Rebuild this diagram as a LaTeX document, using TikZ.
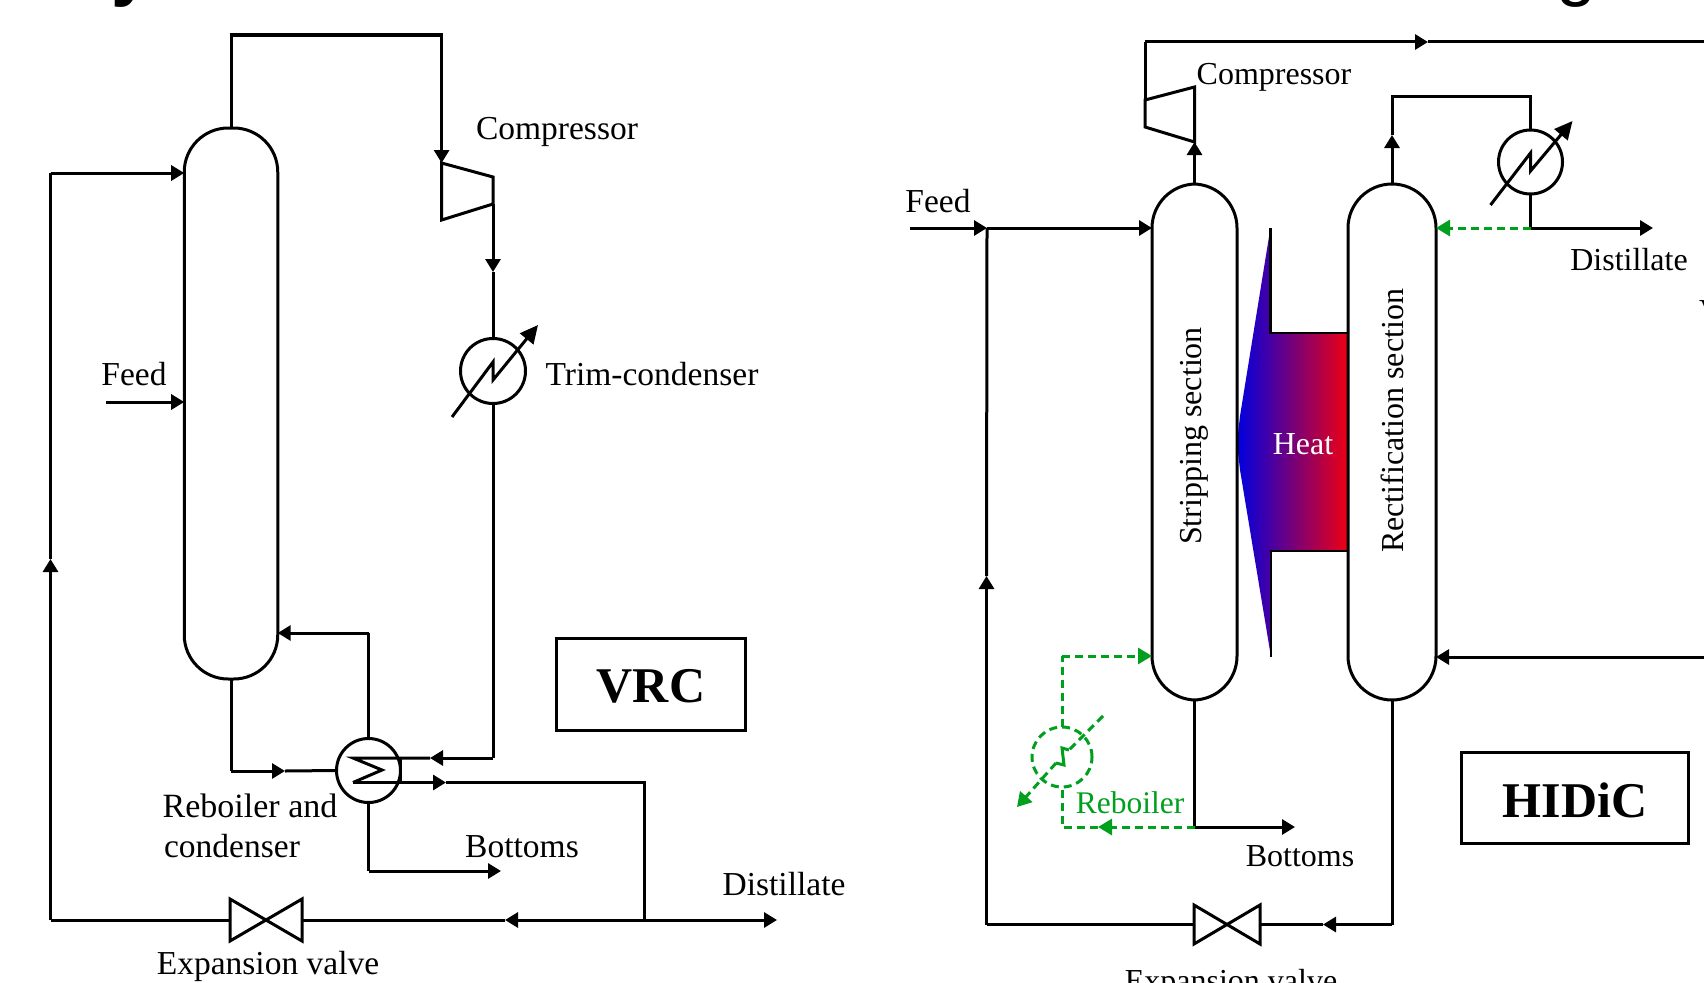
\documentclass[tikz,border=0pt]{standalone}
\usepackage{fontspec}
\setmainfont{Liberation Serif}
\newfontfamily\titlefont{Liberation Sans}
\usetikzlibrary{arrows.meta,calc}
\definecolor{reb}{RGB}{0,160,30}
\definecolor{hblue}{RGB}{0,0,225}
\definecolor{hred}{RGB}{238,0,18}
\tikzset{
  line/.style={line width=3pt,line join=miter,draw=black},
  flow/.style={line,-{Triangle[length=13pt,width=15pt]}},
  bigflow/.style={line,-{Triangle[length=18pt,width=17pt]}},
  greenline/.style={line width=3pt,draw=reb,dash pattern=on 8pt off 5pt},
  greenflow/.style={greenline,-{Triangle[length=14pt,width=16pt]},reb},
  column/.style={draw=black,line width=3pt,fill=white,rounded corners=44pt,minimum width=#1,outer sep=0pt,inner sep=0pt},
  exch/.style={circle,line width=3pt,draw=black,minimum size=64pt,inner sep=0pt,outer sep=0pt},
  lbl/.style={font=\fontsize{33.5}{38}\selectfont,inner sep=0pt},
  lblsmall/.style={font=\fontsize{32}{36}\selectfont,inner sep=0pt},
  sect/.style={font=\fontsize{32}{36}\selectfont,inner sep=0pt,rotate=90},
  tagbox/.style={draw=black,line width=3pt,inner sep=0pt,outer sep=0pt},
  tagtext/.style={inner sep=0pt,font=\fontsize{50}{56}\selectfont\bfseries},
  gap/.style={inner sep=0pt,outer sep=0pt},
}
\begin{document}
\begin{tikzpicture}[x=1pt,y=-1pt]
\useasboundingbox (0,0) rectangle (1704,982);
% clipped title fragments
\node[anchor=base,inner sep=0pt,font=\fontsize{72}{72}\selectfont\titlefont\bfseries] (tY) at (132,-7) {y};
\node[anchor=base,inner sep=0pt,font=\fontsize{72}{72}\selectfont\titlefont] (tG) at (1576,-7) {g};
%
% ====== VRC ======
\node[column=93.5pt,minimum height=551pt] (colA) at (231,403.5) {};
\node[exch,minimum size=65pt] (tcA) at (493,371) {};
\node[exch] (rbA) at (368.5,770.5) {};
\node[gap,minimum width=72pt,minimum height=42pt] (valveA) at (266,920) {};
\draw[line] (valveA.north west) -- (valveA.south east) -- (valveA.north east) -- (valveA.south west) -- cycle;
\coordinate (cA1) at (441.6,163);
\coordinate (cA2) at (493,177);
\coordinate (cA3) at (493,204);
\coordinate (cA4) at (441.6,220);
\draw[line] (cA1) -- (cA2) -- (cA3) -- (cA4) -- cycle;
% overhead
\coordinate (ohA) at (231,35);
\coordinate (ohB) at (441.6,35);
\draw[line] (colA.north) -- (ohA);
\draw[line width=4.5pt] ($(ohA)+(-1.5,0)$) -- ($(ohB)+(1.5,0)$);
\draw[flow] (ohB) -- (cA1);
% compressor to trim condenser
\coordinate (mA1) at (493,272);
\draw[flow] (cA3) -- (mA1);
\draw[line] (mA1) -- (tcA.north);
\draw[bigflow] ($(tcA)+(-41,46)$) -- ($(tcA)+(0,-9)$) -- ($(tcA)+(0,9)$) -- ($(tcA)+(45,-46)$);
% trim condenser to reboiler
\coordinate (cnA) at (493,758);
\coordinate (mA2) at (430,758);
\coordinate (sgA) at (353,758);
\draw[line] (tcA.south) -- (cnA);
\draw[flow] (cnA) -- (mA2);
\draw[line] (mA2) -- (sgA) -- (382,770) -- (353,782.5);
\draw[line] (400,758) -- (400,782.5);
% distillate
\coordinate (sgB) at (353,782.5);
\coordinate (mA3) at (446,782.5);
\coordinate (cdA) at (644,782.5);
\coordinate (jnA) at (644,920);
\coordinate (dsA) at (777,920);
\coordinate (mA4) at (505,920);
\draw[flow] (sgB) -- (mA3);
\draw[line] (mA3) -- (cdA) -- (jnA);
\draw[flow] (jnA) -- (dsA);
\draw[flow] (jnA) -- (mA4);
\draw[line] (mA4) -- (valveA.east);
% column bottom to reboiler
\coordinate (bmA) at (231,771);
\coordinate (mA5) at (285,771);
\draw[line] (colA.south) -- (bmA);
\draw[flow] (bmA) -- (mA5);
\draw[line] (mA5) -- (rbA.west);
% reboil return
\coordinate (rtA) at (368.5,633);
\coordinate (riA) at (277.7,633);
\draw[line] (rbA.north) -- (rtA);
\draw[flow] (rtA) -- (riA);
% bottoms
\coordinate (btA) at (368.5,871);
\coordinate (boA) at (501,871);
\draw[line] (rbA.south) -- (btA);
\draw[flow] (btA) -- (boA);
% recycle
\coordinate (lfA) at (50.5,920);
\coordinate (mA6) at (50.5,559);
\coordinate (tfA) at (50.5,173);
\coordinate (fiA) at (184.2,173);
\draw[line] (valveA.west) -- (lfA);
\draw[flow] (lfA) -- (mA6);
\draw[line] (mA6) -- (tfA);
\draw[flow] (tfA) -- (fiA);
% feed
\coordinate (fdA) at (106,402);
\coordinate (fjA) at (184.2,402);
\draw[flow] (fdA) -- (fjA);
% labels
\node[lbl] (lfeedA) at (134,374) {Feed};
\node[lbl] (lcompA) at (557,132) {Compressor};
\node[lbl] (ltrim) at (652,374) {Trim-condenser};
\node[lbl,font=\fontsize{34}{38}\selectfont] (lreb1) at (250,806) {Reboiler and};
\node[lbl] (lreb2) at (232,846) {condenser};
\node[lbl] (lbotA) at (522,847) {Bottoms};
\node[lbl] (ldisA) at (784,884) {Distillate};
\node[lbl] (lvalA) at (268,966) {Expansion valve};
\node[tagbox,minimum width=189pt,minimum height=92pt] (vrcBox) at (650.5,684) {};
\node[tagtext] (vrc) at (651,686) {VRC};
%
% ====== HIDiC ======
% heat
\coordinate (hA) at (1270.4,228);
\coordinate (hB) at (1270.4,333);
\coordinate (hC) at (1348,333);
\coordinate (hD) at (1348,551);
\coordinate (hE) at (1271,551);
\coordinate (hF) at (1271,657);
\path[left color=hblue,right color=hred] (hA) -- (hB) -- (hC) -- (hD) -- (hE) -- (hF) -- (1240,470) -- (1237,443) -- (1240,416) -- cycle;
\draw[line width=2.4pt] (hA) -- (hB) -- (hC);
\draw[line width=2.4pt] (hD) -- (hE) -- (hF);
\node[column=85pt,minimum height=516pt] (colS) at (1194.5,442) {};
\node[column=88pt,minimum height=516pt] (colR) at (1392,442) {};
\node[sect] (lstrip) at (1194,436) {Stripping section};
\node[sect] (lrect) at (1392,421) {Rectification section};
\node[font=\fontsize{32}{36}\selectfont,inner sep=0pt,text=white] (lheat) at (1303,444) {Heat};
% compressor
\coordinate (cS1) at (1145,100);
\coordinate (cS2) at (1194.5,87);
\coordinate (cS3) at (1194.5,142);
\coordinate (cS4) at (1145,127);
\draw[line] (cS1) -- (cS2) -- (cS3) -- (cS4) -- cycle;
\coordinate (tlS) at (1145,42);
\coordinate (mS1) at (1428,42);
\coordinate (trS) at (1704,42);
\draw[flow] (colS.north) -- (cS3);
\draw[line] (cS1) -- (tlS);
\draw[flow] (tlS) -- (mS1);
\draw[line] (mS1) -- (trS);
% rectifier overhead
\node[exch] (tcR) at (1530.5,162) {};
\coordinate (mR1) at (1392,135);
\coordinate (ovR) at (1392,96);
\coordinate (ovS) at (1530.5,96);
\coordinate (jnR) at (1530.5,228);
\coordinate (dsR) at (1653,228);
\coordinate (rfR) at (1436,228);
\draw[flow] (colR.north) -- (mR1);
\draw[line] (mR1) -- (ovR) -- (ovS) -- (tcR.north);
\draw[bigflow] ($(tcR)+(-40,43)$) -- ($(tcR)+(0,-9)$) -- ($(tcR)+(0,9)$) -- ($(tcR)+(42,-41)$);
\draw[line] (tcR.south) -- (jnR);
\draw[flow] (jnR) -- (dsR);
\draw[greenflow] (jnR) -- (rfR);
% feed
\coordinate (fdS) at (910,228);
\coordinate (mS2) at (987,228);
\coordinate (fiS) at (1152,228);
\draw[flow] (fdS) -- (mS2);
\draw[flow] (mS2) -- (fiS);
% return
\coordinate (rrS) at (1704,657);
\coordinate (riR) at (1436,657);
\draw[flow] (rrS) -- (riR);
% bottoms
\coordinate (jbS) at (1194.5,827);
\coordinate (boS) at (1295,827);
\draw[line] (colS.south) -- (jbS);
\draw[flow] (jbS) -- (boS);
% reboiler (green)
\node[exch,draw=reb,dash pattern=on 8pt off 5pt,minimum size=60pt] (rbS) at (1062,757) {};
\coordinate (cnS) at (1062,827);
\coordinate (mS3) at (1098,827);
\coordinate (upS) at (1062,656);
\coordinate (inS) at (1152,656);
\draw[greenflow] (jbS) -- (mS3);
\draw[greenline] (mS3) -- (cnS) -- (rbS.south);
\draw[greenline] (rbS.north) -- (upS);
\draw[greenflow] (upS) -- (inS);
\draw[greenline] ($(rbS)+(41,-41)$) -- ($(rbS)+(7,-7)$);
\draw[line width=3pt,draw=reb] ($(rbS)+(7,-7)$) -- ($(rbS)+(0,-9)$) -- ($(rbS)+(2,8)$) -- ($(rbS)+(-6,6)$);
\draw[greenflow] ($(rbS)+(-6,6)$) -- ($(rbS)+(-45,50)$);
% rectifier bottoms and valve
\node[gap,minimum width=66pt,minimum height=39pt] (valveS) at (1227,924.5) {};
\draw[line] (valveS.north west) -- (valveS.south east) -- (valveS.north east) -- (valveS.south west) -- cycle;
\coordinate (bnR) at (1392,924.5);
\coordinate (mS4) at (1323,924.5);
\coordinate (lfS) at (986.5,924.5);
\coordinate (mS5) at (986.5,576);
\draw[line] (colR.south) -- (bnR);
\draw[flow] (bnR) -- (mS4);
\draw[line] (mS4) -- (valveS.east);
\draw[line] (valveS.west) -- (lfS);
\draw[flow] (lfS) -- (mS5);
\draw[line] (mS5) -- (mS2);
% labels
\node[lbl] (lfeedS) at (938,201) {Feed};
\node[lblsmall] (lcompS) at (1274,77) {Compressor};
\node[lblsmall] (ldisS) at (1629,260) {Distillate};
\node[lblsmall,text=reb,font=\fontsize{31.5}{36}\selectfont] (lrebS) at (1130,803) {Reboiler};
\node[lblsmall] (lbotS) at (1300,856) {Bottoms};
\node[lblsmall,anchor=base] (lvalS) at (1231,991) {Expansion valve};
\node[tagbox,minimum width=227pt,minimum height=91pt] (hidicBox) at (1574.5,797.5) {};
\node[tagtext] (hidic) at (1575,800) {HIDiC};
\node[lbl,anchor=base west] (lcut) at (1699,322) {V};
\end{tikzpicture}
\end{document}
